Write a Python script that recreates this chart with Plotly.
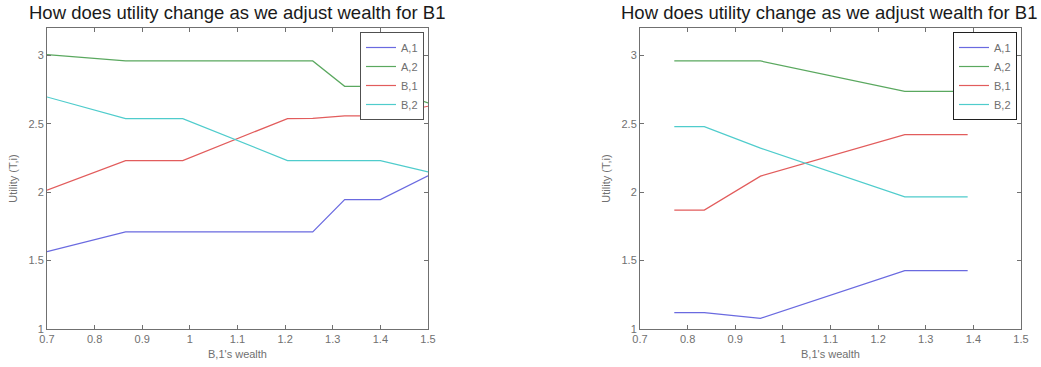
import plotly.graph_objects as go

# ---- data ----
series_names = ["A,1", "A,2", "B,1", "B,2"]
colors = ["#6a6ae0", "#5aa85f", "#e25c5c", "#4fcccc"]

# left panel
left_x = [0.70, 0.865, 0.985, 1.205, 1.258, 1.325, 1.40, 1.50]
left_A1 = [1.565, 1.710, 1.710, 1.710, 1.710, 1.946, 1.946, 2.120]
left_A2 = [3.005, 2.959, 2.959, 2.959, 2.959, 2.774, 2.774, 2.652]
left_B1 = [2.015, 2.231, 2.231, 2.538, 2.540, 2.557, 2.557, 2.628]
left_B2 = [2.696, 2.538, 2.538, 2.231, 2.231, 2.231, 2.231, 2.148]

# right panel
right_x = [0.772, 0.835, 0.953, 1.256, 1.388]
right_A1 = [1.119, 1.119, 1.078, 1.426, 1.426]
right_A2 = [2.959, 2.959, 2.959, 2.737, 2.737]
right_B1 = [1.869, 1.869, 2.117, 2.420, 2.420]
right_B2 = [2.479, 2.479, 2.322, 1.966, 1.966]

x_ticks = [0.7, 0.8, 0.9, 1.0, 1.1, 1.2, 1.3, 1.4, 1.5]
x_tick_labels = ["0.7", "0.8", "0.9", "1", "1.1", "1.2", "1.3", "1.4", "1.5"]
y_ticks = [1, 1.5, 2, 2.5, 3]
y_tick_labels = ["1", "1.5", "2", "2.5", "3"]

title_text = "How does utility change as we adjust wealth for B1"
x_title = "B,1's wealth"
y_title = "Utility (T,i)"

fig = go.Figure()
left_vals = [left_A1, left_A2, left_B1, left_B2]
right_vals = [right_A1, right_A2, right_B1, right_B2]
for name, col, ys in zip(series_names, colors, left_vals):
    fig.add_trace(go.Scatter(x=left_x, y=ys, mode="lines", name=name,
                             line=dict(color=col, width=1.2),
                             xaxis="x", yaxis="y", legend="legend"))
for name, col, ys in zip(series_names, colors, right_vals):
    fig.add_trace(go.Scatter(x=right_x, y=ys, mode="lines", name=name,
                             line=dict(color=col, width=1.2),
                             xaxis="x2", yaxis="y2", legend="legend2"))

W, H = 1041, 367
def px(v): return v / W
def py(v): return 1 - v / H

FONT = "Liberation Sans, Arial"
axis_common = dict(
    showgrid=False, zeroline=False, showline=True, linecolor="#707070",
    linewidth=1, mirror="ticks", ticks="inside", ticklen=4, automargin=False,
    tickcolor="#707070", tickfont=dict(family=FONT, size=11, color="#707070"),
)
xdom1 = [px(47), px(428)]
xdom2 = [px(640), px(1021)]
ydom = [py(329), py(28)]
xt = dict(text=x_title, standoff=6, font=dict(family=FONT, size=11, color="#707070"))
yt = dict(text=y_title, standoff=8, font=dict(family=FONT, size=11, color="#707070"))

fig.update_layout(
    width=W, height=H,
    margin=dict(l=0, r=0, t=0, b=0, autoexpand=False),
    paper_bgcolor="white", plot_bgcolor="white",
    font=dict(family=FONT, color="#606060"),
    xaxis=dict(domain=xdom1, range=[0.7, 1.5], tickvals=x_ticks, ticktext=x_tick_labels,
               anchor="y", title=xt, **axis_common),
    yaxis=dict(domain=ydom, range=[1, 3.2], tickvals=y_ticks, ticktext=y_tick_labels,
               anchor="x", title=yt, **axis_common),
    xaxis2=dict(domain=xdom2, range=[0.7, 1.5], tickvals=x_ticks, ticktext=x_tick_labels,
                anchor="y2", title=xt, **axis_common),
    yaxis2=dict(domain=ydom, range=[1, 3.2], tickvals=y_ticks, ticktext=y_tick_labels,
                anchor="x2", title=yt, **axis_common),
    legend=dict(x=px(424), y=py(32), xanchor="right", yanchor="top",
                bgcolor="white", bordercolor="#505050", borderwidth=1,
                font=dict(family=FONT, size=11, color="#707070"), tracegroupgap=0,
                itemwidth=30),
    legend2=dict(x=px(1017), y=py(32), xanchor="right", yanchor="top",
                 bgcolor="white", bordercolor="#202020", borderwidth=1,
                 font=dict(family=FONT, size=11, color="#707070"), tracegroupgap=0,
                 itemwidth=30),
    annotations=[
        dict(text=title_text, x=px(27), y=py(12), xref="paper", yref="paper",
             showarrow=False, xanchor="left", yanchor="middle",
             font=dict(family=FONT, size=18.5, color="#1a1a1a")),
        dict(text=title_text, x=px(619), y=py(12), xref="paper", yref="paper",
             showarrow=False, xanchor="left", yanchor="middle",
             font=dict(family=FONT, size=18.5, color="#1a1a1a")),
    ],
)

# remove the browser's default 8px body margin so the figure sits at the window's corner
fig.write_html("out.html", config={"displayModeBar": False},
               post_script="document.body.style.margin='0px';")
